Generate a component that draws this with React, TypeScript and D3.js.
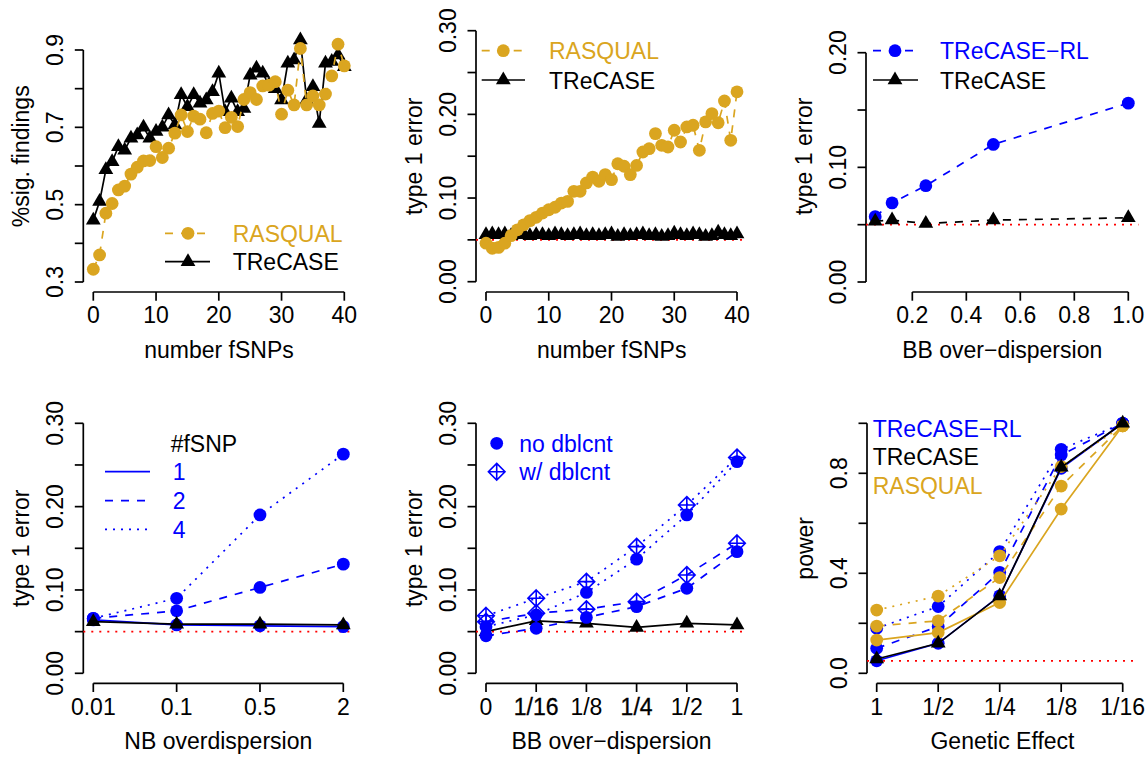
import React from 'react';
import * as d3 from 'd3';

const GOLD = '#DAA520';
const BLUE = '#0000FF';
const FONT = '"Liberation Sans", Arial, Helvetica, sans-serif';
const FS = 23;
const LW = 1.7;
const DASH = '8 8';
const DOT = '2 6';

// ---- data ----
const nFsnps = [0, 1, 2, 3, 4, 5, 6, 7, 8, 9, 10, 11, 12, 13, 14, 15, 16, 17, 18, 19, 20,
  21, 22, 23, 24, 25, 26, 27, 28, 29, 30, 31, 32, 33, 34, 35, 36, 37, 38, 39, 40];

const sigRasqual = [0.333, 0.37, 0.478, 0.503, 0.538, 0.548, 0.579, 0.597, 0.613, 0.614, 0.65,
  0.622, 0.646, 0.685, 0.732, 0.689, 0.729, 0.721, 0.686, 0.736, 0.742, 0.699, 0.726, 0.702,
  0.772, 0.79, 0.772, 0.807, 0.809, 0.818, 0.734, 0.796, 0.758, 0.904, 0.758, 0.781, 0.758,
  0.786, 0.833, 0.915, 0.859];
const sigTrecase = [0.46, 0.508, 0.59, 0.611, 0.65, 0.641, 0.672, 0.68, 0.70, 0.672, 0.689,
  0.70, 0.732, 0.706, 0.784, 0.753, 0.784, 0.762, 0.771, 0.792, 0.84, 0.74, 0.775, 0.74,
  0.749, 0.835, 0.853, 0.84, 0.81, 0.80, 0.771, 0.866, 0.874, 0.926, 0.771, 0.805, 0.71,
  0.866, 0.87, 0.887, 0.857];

const t1Rasqual = [0.046, 0.040, 0.041, 0.046, 0.055, 0.062, 0.068, 0.073, 0.077, 0.082, 0.086,
  0.089, 0.094, 0.096, 0.108, 0.108, 0.118, 0.125, 0.12, 0.128, 0.122, 0.141, 0.138, 0.128,
  0.139, 0.155, 0.159, 0.177, 0.163, 0.161, 0.181, 0.167, 0.185, 0.187, 0.157, 0.191, 0.201,
  0.19, 0.216, 0.169, 0.227];
const t1Trecase = [0.056, 0.057, 0.056, 0.057, 0.055, 0.056, 0.057, 0.055, 0.056, 0.056, 0.055,
  0.057, 0.056, 0.055, 0.056, 0.057, 0.055, 0.056, 0.055, 0.056, 0.057, 0.054, 0.056, 0.055,
  0.056, 0.057, 0.055, 0.056, 0.054, 0.055, 0.058, 0.056, 0.055, 0.057, 0.056, 0.054, 0.055,
  0.059, 0.056, 0.055, 0.057];

const bbLevels = [0.0625, 0.125, 0.25, 0.5, 1];
const bbTicks = [0.2, 0.4, 0.6, 0.8, 1.0];
const bbRL = [0.057, 0.069, 0.084, 0.12, 0.156];
const bbTrecase = [0.053, 0.054, 0.051, 0.054, 0.056];

const nbLabels = ['0.01', '0.1', '0.5', '2'];
const nbOne = [0.064, 0.058, 0.057, 0.056];
const nbTwo = [0.066, 0.075, 0.103, 0.131];
const nbFour = [0.066, 0.09, 0.19, 0.263];
const nbTrecase = [0.062, 0.059, 0.059, 0.058];

const bbCatLabels = ['0', '1/16', '1/8', '1/4', '1/2', '1'];
const noDblDot = [0.056, 0.07, 0.097, 0.137, 0.19, 0.254];
const noDblDash = [0.045, 0.054, 0.067, 0.08, 0.102, 0.146];
const wDblDot = [0.069, 0.09, 0.11, 0.152, 0.202, 0.259];
const wDblDash = [0.062, 0.072, 0.077, 0.086, 0.118, 0.156];
const catTrecase = [0.05, 0.063, 0.06, 0.055, 0.06, 0.058];

const effectLabels = ['1', '1/2', '1/4', '1/8', '1/16'];
const powRLDot = [0.18, 0.267, 0.487, 0.896, 1.0];
const powRLDash = [0.10, 0.187, 0.404, 0.873, 1.0];
const powRLSolid = [0.05, 0.12, 0.31, 0.82, 1.0];
const powTrecase = [0.057, 0.12, 0.309, 0.824, 1.0];
const powRasDot = [0.253, 0.309, 0.47, 0.827, 0.99];
const powRasDash = [0.189, 0.21, 0.383, 0.749, 0.99];
const powRasSolid = [0.133, 0.163, 0.283, 0.657, 0.99];

const ticksP1 = [0.3, 0.4, 0.5, 0.6, 0.7, 0.8, 0.9];
const ticksT1 = [0, 0.05, 0.1, 0.15, 0.2, 0.25, 0.3];
const ticksP3 = [0, 0.05, 0.1, 0.15, 0.2];
const ticksPow = [0, 0.2, 0.4, 0.6, 0.8, 1.0];
const fsnpTicks = [0, 10, 20, 30, 40];

// ---- helpers ----
type Scale = d3.ScaleLinear<number, number>;

function Marker({ kind, x, y, color }: { kind: string; x: number; y: number; color: string }) {
  if (kind === 'circle') return <circle cx={x} cy={y} r={6.4} fill={color} />;
  if (kind === 'triangle') {
    const p = `M${x},${y - 8.5}L${x + 7.4},${y + 4.25}L${x - 7.4},${y + 4.25}Z`;
    return <path d={p} fill={color} />;
  }
  const h = 8.3;
  const p = `M${x},${y - h}L${x + h},${y}L${x},${y + h}L${x - h},${y}Z M${x - h},${y}H${x + h} M${x},${y - h}V${y + h}`;
  return <path d={p} fill="none" stroke={color} strokeWidth={1.6} />;
}

function Series({ xs, ys, sx, sy, color, dash, marker }: {
  xs: number[]; ys: number[]; sx: Scale; sy: Scale; color: string; dash?: string; marker?: string;
}) {
  const pts: [number, number][] = xs.map((v, i) => [sx(v), sy(ys[i])]);
  const line = d3.line();
  return (
    <g>
      <path d={line(pts) || ''} fill="none" stroke={color} strokeWidth={LW} strokeDasharray={dash} />
      {marker && pts.map((p, i) => <Marker key={i} kind={marker} x={p[0]} y={p[1]} color={color} />)}
    </g>
  );
}

function YAxis({ x, sy, ticks, labels, title, midY }: {
  x: number; sy: Scale; ticks: number[]; labels: (string | null)[]; title: string; midY: number;
}) {
  const y0 = sy(ticks[0]);
  const y1 = sy(ticks[ticks.length - 1]);
  return (
    <g>
      <line x1={x} x2={x} y1={y0} y2={y1} stroke="#000" strokeWidth={LW} />
      {ticks.map((t, i) => (
        <g key={i}>
          <line x1={x - 8.5} x2={x} y1={sy(t)} y2={sy(t)} stroke="#000" strokeWidth={LW} />
          {labels[i] && (
            <text transform={`translate(${x - 20.5},${sy(t)}) rotate(-90)`} textAnchor="middle">{labels[i]}</text>
          )}
        </g>
      ))}
      <text transform={`translate(${x - 54},${midY}) rotate(-90)`} textAnchor="middle">{title}</text>
    </g>
  );
}

function XAxis({ y, sx, ticks, labels, title, midX, heavy }: {
  y: number; sx: Scale; ticks: number[]; labels: string[]; title: string; midX: number; heavy?: number[];
}) {
  return (
    <g>
      <line x1={sx(ticks[0])} x2={sx(ticks[ticks.length - 1])} y1={y} y2={y} stroke="#000" strokeWidth={LW} />
      {ticks.map((t, i) => (
        <g key={i}>
          <line x1={sx(t)} x2={sx(t)} y1={y} y2={y + 8.7} stroke="#000" strokeWidth={LW} />
          <text x={sx(t)} y={y + 31.3} textAnchor="middle"
            stroke={heavy && heavy.includes(i) ? '#000' : 'none'} strokeWidth={0.3}>{labels[i]}</text>
        </g>
      ))}
      <text x={midX} y={y + 66} textAnchor="middle">{title}</text>
    </g>
  );
}

function RefLine({ y, x1, x2 }: { y: number; x1: number; x2: number }) {
  return <line x1={x1} x2={x2} y1={y} y2={y} stroke="red" strokeWidth={LW} strokeDasharray={DOT} />;
}

function LegendRow({ y, x1, x2, px, tx, color, dash, marker, label }: {
  y: number; x1?: number; x2?: number; px?: number; tx: number; color: string; dash?: string;
  marker?: string; label: string;
}) {
  return (
    <g>
      {x1 !== undefined && <line x1={x1} x2={x2} y1={y} y2={y} stroke={color} strokeWidth={LW} strokeDasharray={dash} />}
      {marker && px !== undefined && <Marker kind={marker} x={px} y={y} color={color} />}
      <text x={tx} y={y + 8.5} fill={color}>{label}</text>
    </g>
  );
}

const fmt2 = (v: number) => v.toFixed(2);

export default function App() {
  // top row scales
  const sx1 = d3.scaleLinear().domain([0, 40]).range([93.3, 344.3]);
  const sy1 = d3.scaleLinear().domain([0.3, 0.9]).range([282, 50]);
  const sx2 = d3.scaleLinear().domain([0, 40]).range([486, 737]);
  const sy2 = d3.scaleLinear().domain([0, 0.3]).range([281.7, 30.7]);
  const sx3 = d3.scaleLinear().domain([0.0625, 1]).range([875.2, 1128.3]);
  const sy3 = d3.scaleLinear().domain([0, 0.2]).range([282, 52.7]);
  // bottom row scales
  const sx4 = d3.scaleLinear().domain([1, 4]).range([93.3, 343.3]);
  const syB = d3.scaleLinear().domain([0, 0.3]).range([673.3, 423.3]);
  const sx5 = d3.scaleLinear().domain([1, 6]).range([486, 737]);
  const sx6 = d3.scaleLinear().domain([1, 5]).range([876.7, 1122.7]);
  const sy6 = d3.scaleLinear().domain([0, 1]).range([673.3, 423.3]);

  const pos4 = nbLabels.map((_, i) => i + 1);
  const pos5 = bbCatLabels.map((_, i) => i + 1);
  const pos6 = effectLabels.map((_, i) => i + 1);

  const t1Labels = ticksT1.map((t, i) => (i % 2 === 0 ? fmt2(t) : null));

  return (
    <svg width={1148} height={757} style={{ position: 'absolute', left: 0, top: 0, background: '#fff' }}
      fontFamily={FONT} fontSize={FS}>
      <rect width={1148} height={757} fill="#fff" />

      {/* Panel 1: share of significant findings vs number of fSNPs */}
      <YAxis x={83.3} sy={sy1} ticks={ticksP1} labels={ticksP1.map((t, i) => (i % 2 === 0 ? t.toFixed(1) : null))}
        title="%sig. findings" midY={156.3} />
      <XAxis y={292} sx={sx1} ticks={fsnpTicks} labels={fsnpTicks.map(String)} title="number fSNPs" midX={219} />
      <Series xs={nFsnps} ys={sigTrecase} sx={sx1} sy={sy1} color="#000" marker="triangle" />
      <Series xs={nFsnps} ys={sigRasqual} sx={sx1} sy={sy1} color={GOLD} dash={DASH} marker="circle" />
      <LegendRow y={233.3} x1={165} x2={210} px={188} tx={232.7} color={GOLD} dash={DASH} marker="circle" label="RASQUAL" />
      <LegendRow y={261.7} x1={165} x2={210} px={188} tx={232.7} color="#000" marker="triangle" label="TReCASE" />

      {/* Panel 2: type 1 error vs number of fSNPs */}
      <YAxis x={476} sy={sy2} ticks={ticksT1} labels={t1Labels} title="type 1 error" midY={156.3} />
      <XAxis y={292} sx={sx2} ticks={fsnpTicks} labels={fsnpTicks.map(String)} title="number fSNPs" midX={611.7} />
      <RefLine y={sy2(0.05)} x1={476} x2={747.3} />
      <Series xs={nFsnps} ys={t1Trecase} sx={sx2} sy={sy2} color="#000" marker="triangle" />
      <Series xs={nFsnps} ys={t1Rasqual} sx={sx2} sy={sy2} color={GOLD} dash={DASH} marker="circle" />
      <LegendRow y={50.7} x1={481.7} x2={525} px={503.3} tx={549} color={GOLD} dash={DASH} marker="circle" label="RASQUAL" />
      <LegendRow y={80} x1={481.7} x2={525} px={503.3} tx={549} color="#000" marker="triangle" label="TReCASE" />

      {/* Panel 3: type 1 error vs BB over-dispersion */}
      <YAxis x={866} sy={sy3} ticks={ticksP3} labels={ticksP3.map((t, i) => (i % 2 === 0 ? fmt2(t) : null))}
        title="type 1 error" midY={156.3} />
      <XAxis y={292} sx={sx3} ticks={bbTicks} labels={bbTicks.map((t) => t.toFixed(1))} title="BB over−dispersion" midX={1002.2} />
      <RefLine y={sy3(0.05)} x1={866} x2={1138.4} />
      <Series xs={bbLevels} ys={bbRL} sx={sx3} sy={sy3} color={BLUE} dash={DASH} marker="circle" />
      <Series xs={bbLevels} ys={bbTrecase} sx={sx3} sy={sy3} color="#000" dash={DASH} marker="triangle" />
      <LegendRow y={50.7} x1={873} x2={918} px={895} tx={940} color={BLUE} dash={DASH} marker="circle" label="TReCASE−RL" />
      <LegendRow y={80} x1={873} x2={918} px={895} tx={940} color="#000" marker="triangle" label="TReCASE" />

      {/* Panel 4: type 1 error vs NB overdispersion */}
      <YAxis x={83.3} sy={syB} ticks={ticksT1} labels={t1Labels} title="type 1 error" midY={548.3} />
      <XAxis y={683.3} sx={sx4} ticks={pos4} labels={nbLabels} title="NB overdispersion" midX={218.3} />
      <RefLine y={syB(0.05)} x1={83.3} x2={353.3} />
      <Series xs={pos4} ys={nbFour} sx={sx4} sy={syB} color={BLUE} dash={DOT} marker="circle" />
      <Series xs={pos4} ys={nbTwo} sx={sx4} sy={syB} color={BLUE} dash={DASH} marker="circle" />
      <Series xs={pos4} ys={nbOne} sx={sx4} sy={syB} color={BLUE} marker="circle" />
      <Series xs={pos4} ys={nbTrecase} sx={sx4} sy={syB} color="#000" marker="triangle" />
      <text x={170.7} y={452}>#fSNP</text>
      <LegendRow y={471.7} x1={105} x2={150} tx={172.7} color={BLUE} label="1" />
      <LegendRow y={500.7} x1={105} x2={150} tx={172.7} color={BLUE} dash={DASH} label="2" />
      <LegendRow y={529.3} x1={105} x2={150} tx={172.7} color={BLUE} dash={DOT} label="4" />

      {/* Panel 5: type 1 error vs BB over-dispersion, with/without double counting */}
      <YAxis x={476} sy={syB} ticks={ticksT1} labels={t1Labels} title="type 1 error" midY={548.3} />
      <XAxis y={683.3} sx={sx5} ticks={pos5} labels={bbCatLabels} title="BB over−dispersion" midX={611.5} heavy={[1, 3]} />
      <RefLine y={syB(0.05)} x1={476} x2={747} />
      <Series xs={pos5} ys={catTrecase} sx={sx5} sy={syB} color="#000" marker="triangle" />
      <Series xs={pos5} ys={noDblDot} sx={sx5} sy={syB} color={BLUE} dash={DOT} marker="circle" />
      <Series xs={pos5} ys={noDblDash} sx={sx5} sy={syB} color={BLUE} dash={DASH} marker="circle" />
      <Series xs={pos5} ys={wDblDot} sx={sx5} sy={syB} color={BLUE} dash={DOT} marker="diamond" />
      <Series xs={pos5} ys={wDblDash} sx={sx5} sy={syB} color={BLUE} dash={DASH} marker="diamond" />
      <LegendRow y={443.3} px={496.7} tx={519.3} color={BLUE} marker="circle" label="no dblcnt" />
      <LegendRow y={471.7} px={496.7} tx={519.3} color={BLUE} marker="diamond" label="w/ dblcnt" />

      {/* Panel 6: power vs genetic effect */}
      <YAxis x={867} sy={sy6} ticks={ticksPow} labels={ticksPow.map((t, i) => (i % 2 === 0 ? t.toFixed(1) : null))}
        title="power" midY={548.3} />
      <XAxis y={683.3} sx={sx6} ticks={pos6} labels={effectLabels} title="Genetic Effect" midX={1002.5} />
      <RefLine y={sy6(0.05)} x1={867} x2={1138} />
      <Series xs={pos6} ys={powRLDot} sx={sx6} sy={sy6} color={BLUE} dash={DOT} marker="circle" />
      <Series xs={pos6} ys={powRLDash} sx={sx6} sy={sy6} color={BLUE} dash={DASH} marker="circle" />
      <Series xs={pos6} ys={powRLSolid} sx={sx6} sy={sy6} color={BLUE} marker="circle" />
      <Series xs={pos6} ys={powRasDot} sx={sx6} sy={sy6} color={GOLD} dash={DOT} marker="circle" />
      <Series xs={pos6} ys={powRasDash} sx={sx6} sy={sy6} color={GOLD} dash={DASH} marker="circle" />
      <Series xs={pos6} ys={powRasSolid} sx={sx6} sy={sy6} color={GOLD} marker="circle" />
      <Series xs={pos6} ys={powTrecase} sx={sx6} sy={sy6} color="#000" marker="triangle" />
      <LegendRow y={428.3} tx={872.7} color={BLUE} label="TReCASE−RL" />
      <LegendRow y={456.7} tx={872.7} color="#000" label="TReCASE" />
      <LegendRow y={485} tx={872.7} color={GOLD} label="RASQUAL" />
    </svg>
  );
}
